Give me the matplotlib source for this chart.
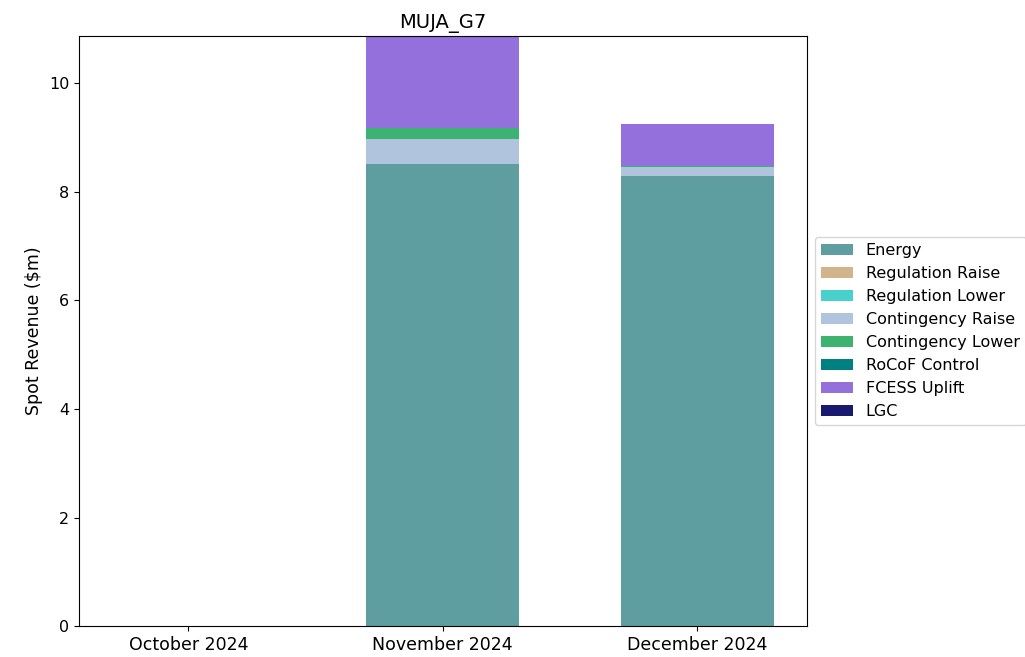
import matplotlib
matplotlib.use("Agg")
import matplotlib.pyplot as plt
import numpy as np

months = ["October 2024", "November 2024", "December 2024"]
series_names = ["Energy", "Regulation Raise", "Regulation Lower", "Contingency Raise",
                "Contingency Lower", "RoCoF Control", "FCESS Uplift", "LGC"]
energy = [0.0, 8.52, 8.29]
regulation_raise = [0.0, 0.0, 0.0]
regulation_lower = [0.0, 0.0, 0.0]
contingency_raise = [0.0, 0.46, 0.16]
contingency_lower = [0.0, 0.20, 0.03]
rocof_control = [0.0, 0.0, 0.0]
fcess_uplift = [0.0, 1.69, 0.77]
lgc = [0.0, 0.0, 0.0]
colors = ["cadetblue", "tan", "mediumturquoise", "lightsteelblue",
          "mediumseagreen", "teal", "mediumpurple", "midnightblue"]

series = [energy, regulation_raise, regulation_lower, contingency_raise,
          contingency_lower, rocof_control, fcess_uplift, lgc]

fig = plt.figure(figsize=(10.25, 6.57), dpi=100)
ax = fig.add_axes([0.077, 0.047, 0.71, 0.898])
x = np.arange(len(months))
bottom = np.zeros(len(months))
for name, vals, c in zip(series_names, series, colors):
    vals = np.array(vals)
    ax.bar(x, vals, width=0.6, bottom=bottom, color=c, label=name)
    bottom += vals
ax.set_xticks(x)
ax.set_xticklabels(months, fontsize=12.5)
ax.tick_params(axis="y", labelsize=11.5)
ax.set_ylim(0, bottom.max())
ax.set_ylabel("Spot Revenue ($m)", fontsize=12.5)
ax.set_title("MUJA_G7", fontsize=14)
ax.legend(loc="center left", bbox_to_anchor=(1.0, 0.5), fontsize=11.5)
fig.savefig("out.png", dpi=100)
